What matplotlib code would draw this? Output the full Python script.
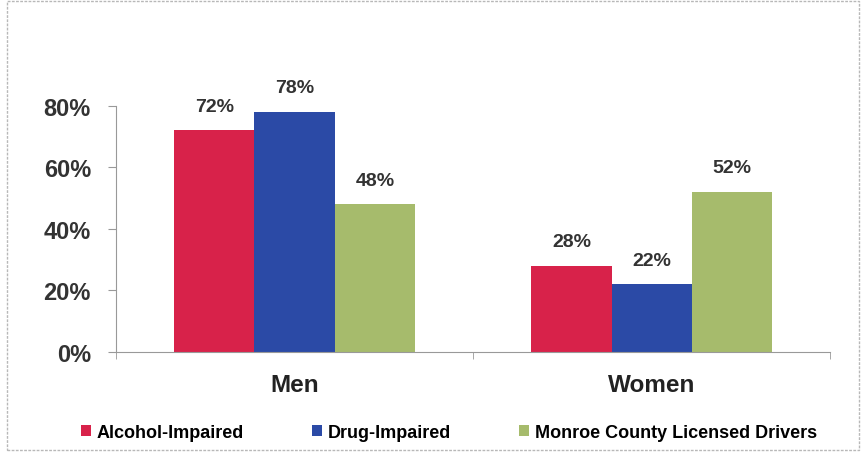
import numpy as np
import matplotlib.pyplot as plt
from matplotlib.patches import Rectangle

categories = ['Men', 'Women']
series = ['Alcohol-Impaired', 'Drug-Impaired', 'Monroe County Licensed Drivers']
alcohol = [72, 28]
drug = [78, 22]
licensed = [48, 52]
colors = ['#d8224a', '#2b4aa6', '#a6bb6c']

plt.rcParams['font.family'] = ['Liberation Sans', 'DejaVu Sans']

fig = plt.figure(figsize=(8.65, 4.56), dpi=100)
fig.patches.append(Rectangle((0.008, 0.01), 0.985, 0.985, transform=fig.transFigure,
                             fill=False, edgecolor='#b8b8b8', lw=1, ls=(0, (2, 1))))
ax = fig.add_axes([0.134, 0.2265, 0.826, 0.5395])

x = np.arange(len(categories))
w = 0.225
for i, (vals, name) in enumerate(zip([alcohol, drug, licensed], series)):
    bars = ax.bar(x + (i - 1) * w, vals, w, color=colors[i], label=name)
    for b, v in zip(bars, vals):
        ax.text(b.get_x() + b.get_width() / 2, v + 5, f'{v}%', ha='center', va='bottom',
                fontsize=14, fontweight='bold', color='#333333', clip_on=False)

ax.set_xlim(-0.5, 1.5)
ax.set_ylim(0, 80)
ax.set_yticks([0, 20, 40, 60, 80])
ax.set_yticklabels([f'{t}%' for t in [0, 20, 40, 60, 80]], fontsize=17, fontweight='bold',
                   color='#333333')
ax.set_xticks(x)
ax.set_xticklabels(categories, fontsize=17.5, fontweight='bold', color='#222222')
ax.set_xticks([-0.5, 0.5, 1.5], minor=True)
ax.tick_params(axis='x', which='major', length=0, pad=15)
ax.tick_params(axis='x', which='minor', length=5, color='#999999')
ax.tick_params(axis='y', length=6, color='#999999', pad=12)
for s in ['top', 'right']:
    ax.spines[s].set_visible(False)
for s in ['left', 'bottom']:
    ax.spines[s].set_color('#999999')

fig.legend(loc='center', bbox_to_anchor=(0.519, 0.05), ncol=3, frameon=False,
           handlelength=0.55, handleheight=0.55, columnspacing=3.8, handletextpad=0.3,
           prop={'weight': 'bold', 'size': 13})

fig.savefig('out.png', dpi=100)
